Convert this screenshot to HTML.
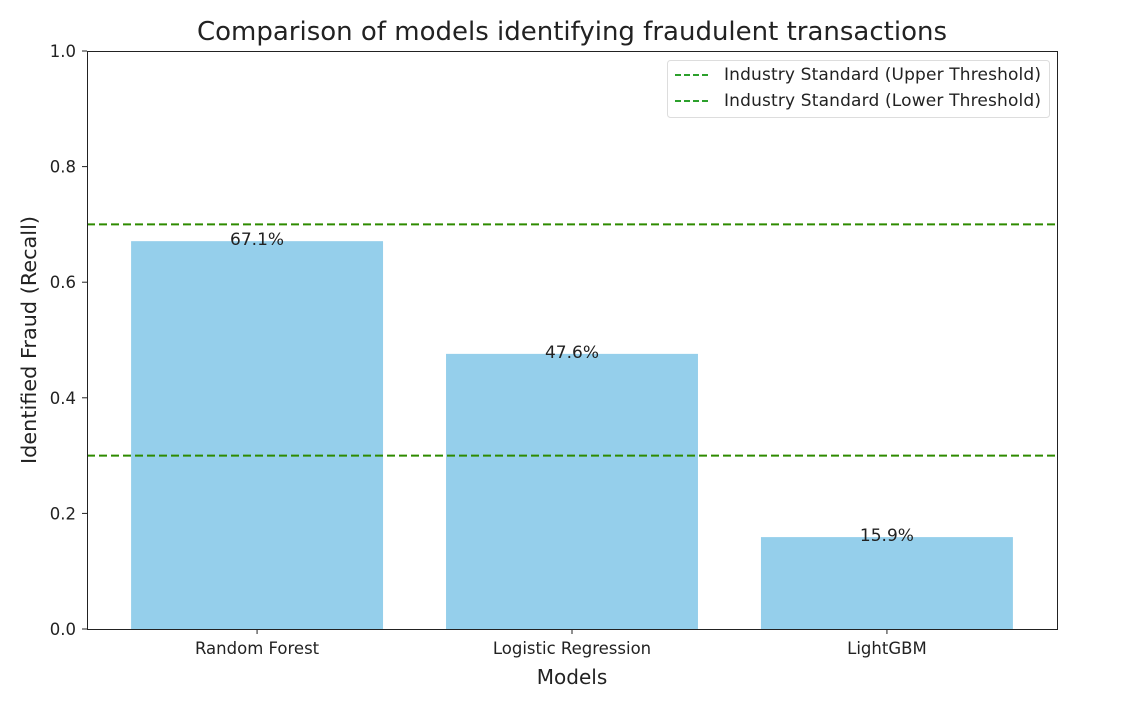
<!DOCTYPE html>
<html><head><meta charset="utf-8"><style>
html,body{margin:0;padding:0;background:#fff;}
svg{display:block;font-family:"DejaVu Sans","Liberation Sans",sans-serif;}
</style></head><body>
<svg id="chart" width="1134" height="705">
<text x="572" y="40" font-size="26" text-anchor="middle" fill="#222">Comparison of models identifying fraudulent transactions</text>
<g id="plot"></g>
<text x="572" y="684" font-size="20" text-anchor="middle" fill="#222">Models</text>
<text transform="translate(36,340) rotate(-90)" font-size="20.8" text-anchor="middle" fill="#222">Identified Fraud (Recall)</text>
<g>
<rect x="667.5" y="60.5" width="382" height="57" rx="3" fill="#fff" stroke="#ddd"/>
<g>
<line x1="675" y1="75" x2="710" y2="75" stroke="#2ca02c" stroke-width="2" stroke-dasharray="6,3"/>
<text x="724" y="80" font-size="17" fill="#222" textLength="317">Industry Standard (Upper Threshold)</text></g>
<g>
<line x1="675" y1="101" x2="710" y2="101" stroke="#2ca02c" stroke-width="2" stroke-dasharray="6,3"/>
<text x="724" y="106" font-size="17" fill="#222" textLength="317">Industry Standard (Lower Threshold)</text></g>
</g>
</svg>
<script>
const categories=["Random Forest","Logistic Regression","LightGBM"];
const recall=[0.671,0.476,0.159];
const labels=["67.1%","47.6%","15.9%"];
const thresholds=[0.7,0.3];
const yTicks=[0,0.2,0.4,0.6,0.8,1.0];
const L=87,R=1057,T=51,B=629;
const xmin=-0.54,xmax=2.54;
const xs=i=>L+(i-xmin)/(xmax-xmin)*(R-L);
const ys=v=>B-v*(B-T);
const ns="http://www.w3.org/2000/svg";
const g=document.getElementById('plot');
function mk(t,a){const e=document.createElementNS(ns,t);for(const k in a)e.setAttribute(k,a[k]);g.appendChild(e);return e;}
const bw=0.8*(R-L)/(xmax-xmin);
categories.forEach((c,i)=>{
 const b=mk('rect',{x:xs(i)-bw/2,y:ys(recall[i]),width:bw,height:B-ys(recall[i]),fill:'#95cfeb'});
 
 
 const t=mk('text',{x:xs(i),y:ys(recall[i])+4,'font-size':17,'text-anchor':'middle',fill:'#222'});
 t.textContent=labels[i];
 
 
 mk('line',{x1:xs(i),x2:xs(i),y1:B,y2:B+5,stroke:'#222'});
 const xl=mk('text',{x:xs(i),y:B+25,'font-size':16.5,'text-anchor':'middle',fill:'#222'});
 xl.textContent=c;
 
 
});
thresholds.forEach(v=>{
 const l=mk('line',{x1:L,x2:R,y1:ys(v),y2:ys(v),stroke:'#2e8b00','stroke-width':2,'stroke-dasharray':'8,4'});
 
 
});
yTicks.forEach(v=>{
 mk('line',{x1:L-5,x2:L,y1:ys(v),y2:ys(v),stroke:'#222'});
 const t=mk('text',{x:L-11,y:ys(v)+6,'font-size':16.5,'text-anchor':'end',fill:'#222'});
 t.textContent=v.toFixed(1);
 
 
});
const f=mk('rect',{x:L+0.5,y:T+0.5,width:R-L,height:B-T,fill:'none',stroke:'#222'});


</script>
</body></html>
